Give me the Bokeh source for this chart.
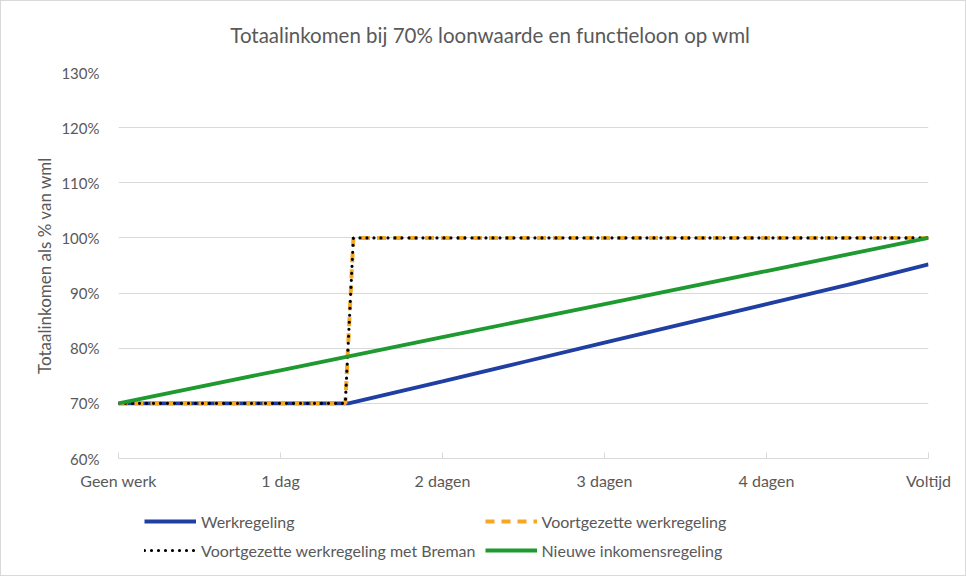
from bokeh.plotting import figure
from bokeh.layouts import column
from bokeh.models import (FixedTicker, PrintfTickFormatter, Legend, LegendItem, Range1d, Label)
from bokeh.embed import file_html
from bokeh.resources import INLINE

# ---- data ----
tick_days = [0, 1, 2, 3, 4, 5]
tick_labels = ["Geen werk", "1 dag", "2 dagen", "3 dagen", "4 dagen", "Voltijd"]
y_ticks = [60, 70, 80, 90, 100, 110, 120, 130]

werk_x = [0, 1.42, 2.0, 2.5, 3.0, 3.5, 4.0, 4.5, 5.0]
werk_y = [70, 70, 74.0, 77.5, 81.0, 84.5, 88.0, 91.5, 95.2]

voort_x = [0, 1.40, 1.45, 5.0]
voort_y = [70, 70, 100, 100]

breman_x = [0, 1.40, 1.45, 5.0]
breman_y = [70, 70, 100, 100]

nieuw_x = [0, 1, 2, 3, 4, 5]
nieuw_y = [70, 76, 82, 88, 94, 100]

series_names = ["Werkregeling", "Voortgezette werkregeling",
                "Voortgezette werkregeling met Breman", "Nieuwe inkomensregeling"]
title_text = "Totaalinkomen bij 70% loonwaarde en functieloon op wml"

FONT = "Lato"
TXT = "#595959"

STYLES = [
    dict(line_color="#1f3fa3", line_width=3.8),
    dict(line_color="#f7a823", line_width=4, line_dash="9 7"),
    dict(line_color="black", line_width=3.2, line_dash="0 7", line_cap="round"),
    dict(line_color="#1f9a30", line_width=3.8),
]


def blank_fig(h):
    f = figure(output_backend="svg", toolbar_location=None,
               width=964, height=h, min_border=0,
               x_range=Range1d(0, 1), y_range=Range1d(0, 1),
               x_axis_type=None, y_axis_type=None,
               background_fill_color="white", border_fill_color="white")
    f.outline_line_color = None
    f.xgrid.visible = False
    f.ygrid.visible = False
    return f


# title strip (frame aligned with the chart frame by the column layout)
tf = blank_fig(60)
tf.add_layout(Label(x=0.459, y=0.45, text=title_text, text_align="center",
                    text_baseline="middle", text_font=FONT, text_font_size="20.5px",
                    text_color=TXT))

p = figure(output_backend="svg", toolbar_location=None,
           width=964, height=437,
           min_border_left=117, min_border_right=37,
           min_border_top=11, min_border_bottom=40,
           x_range=Range1d(0, 5), y_range=Range1d(60, 130),
           background_fill_color="white", border_fill_color="white")
p.outline_line_color = None

# axes
p.xaxis.ticker = FixedTicker(ticks=tick_days)
p.xaxis.major_label_overrides = {d: l for d, l in zip(tick_days, tick_labels)}
p.xaxis.axis_line_color = "#d9d9d9"
p.xaxis.major_tick_line_color = "#d9d9d9"
p.xaxis.major_tick_in = 6
p.xaxis.major_tick_out = 0
p.xaxis.minor_tick_line_color = None
p.xaxis.major_label_standoff = 12
p.xaxis.major_label_text_font = FONT
p.xaxis.major_label_text_font_size = "16px"
p.xaxis.major_label_text_color = TXT

p.yaxis.ticker = FixedTicker(ticks=y_ticks)
p.yaxis.formatter = PrintfTickFormatter(format="%d%%")
p.yaxis.axis_line_color = None
p.yaxis.major_tick_line_color = None
p.yaxis.minor_tick_line_color = None
p.yaxis.major_label_standoff = 13
p.yaxis.major_label_text_font = FONT
p.yaxis.major_label_text_font_size = "15px"
p.yaxis.major_label_text_color = TXT
p.yaxis.axis_label = "Totaalinkomen als % van wml"
p.yaxis.axis_label_text_font = FONT
p.yaxis.axis_label_text_font_size = "17px"
p.yaxis.axis_label_text_font_style = "normal"
p.yaxis.axis_label_text_color = TXT
p.yaxis.axis_label_standoff = 3

p.xgrid.grid_line_color = None
p.ygrid.grid_line_color = "#d9d9d9"
p.ygrid.grid_line_width = 1

# lines
p.line(werk_x, werk_y, **STYLES[0])
p.line(voort_x, voort_y, **STYLES[1])
p.line(breman_x, breman_y, **STYLES[2])
p.line(nieuw_x, nieuw_y, **STYLES[3])

# legend strip below the chart; its dummy lines lie outside its ranges
lf = blank_fig(77)
dummies = [lf.line([5, 6], [5, 5], **s) for s in STYLES]

order = [0, 2, 1, 3]  # legend fills column by column
legend = Legend(items=[LegendItem(label=series_names[i], renderers=[dummies[i]]) for i in order],
                ncols=2, location=(26, 15))
legend.label_text_font = FONT
legend.label_text_font_size = "16px"
legend.label_text_color = TXT
legend.border_line_color = None
legend.background_fill_alpha = 0
legend.glyph_width = 52
legend.label_standoff = 5
legend.spacing = 9
legend.padding = 0
legend.margin = 0
legend.label_height = 20
legend.glyph_height = 20
lf.add_layout(legend, "center")

layout = column(tf, p, lf, spacing=0)
layout.styles = {"border": "1px solid #d9d9d9"}

open("out.html", "w").write(file_html(layout, INLINE))
